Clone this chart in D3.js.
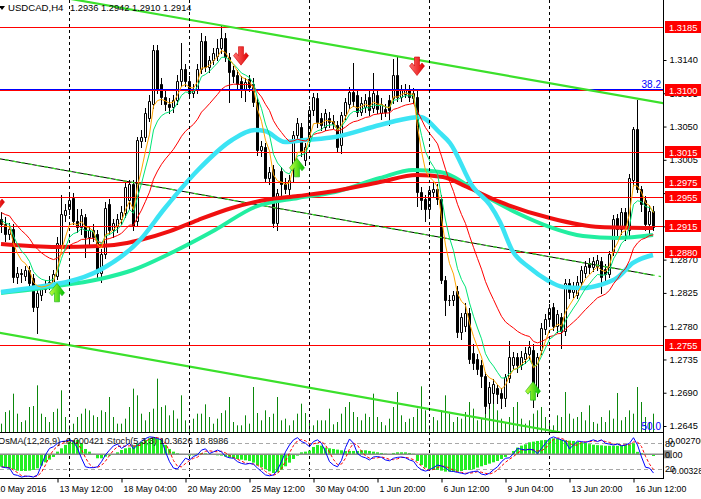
<!DOCTYPE html>
<html>
<head>
<meta charset="utf-8">
<script src="https://cdn.jsdelivr.net/npm/d3@7"></script>
<style>
  body { margin: 0; background: #fff; }
  svg { display: block; }
  text { font-family: "Liberation Sans", Arial, sans-serif; }
</style>
</head>
<body>
<svg id="chart" width="701" height="499"></svg>
<script>
// ---- data ----
// bar 0 = 11 May 04:00, one bar every 4 hours (30 bars per trading week)
var opens = [
  1.2925,1.2918,1.2905,1.2912,1.2846,1.2852,1.2848,1.2856,1.2845,1.2806,
  1.2822,1.2830,1.2836,1.2838,1.2848,1.2890,1.2930,1.2938,1.2954,1.2922,
  1.2914,1.2928,1.2900,1.2910,1.2905,1.2852,1.2878,1.2945,1.2910,1.2915,
  1.2925,1.2933,1.2950,1.2972,1.2922,1.3030,1.3036,1.3062,1.3080,1.3154,
  1.3108,1.3090,1.3080,1.3076,1.3086,1.3112,1.3128,1.3112,1.3095,1.3100,
  1.3128,1.3166,1.3130,1.3140,1.3146,1.3156,1.3170,1.3144,1.3126,1.3120,
  1.3112,1.3100,1.3114,1.3108,1.3083,1.3018,1.3022,1.2980,1.2992,1.2920,
  1.2990,1.2972,1.2966,1.3000,1.3039,1.3049,1.3005,1.3030,1.3072,1.3089,
  1.3062,1.3050,1.3062,1.3058,1.3052,1.3025,1.3066,1.3080,1.3097,1.3092,
  1.3070,1.3076,1.3090,1.3075,1.3092,1.3068,1.3074,1.3086,1.3088,1.3120,
  1.3090,1.3094,1.3100,1.3088,1.3090,1.2962,1.2952,1.2938,1.2962,1.2966,
  1.2952,1.2843,1.2816,1.2815,1.2828,1.2772,1.2780,1.2798,1.2744,1.2736,
  1.2728,1.2712,1.2676,1.2690,1.2696,1.2690,1.2683,1.2710,1.2728,1.2738,
  1.2728,1.2736,1.2742,1.2748,1.2692,1.2748,1.2776,1.2790,1.2806,1.2780,
  1.2792,1.2774,1.2838,1.2826,1.2822,1.2840,1.2852,1.2866,1.2860,1.2862,
  1.2868,1.2858,1.2850,1.2882,1.2926,1.2912,1.2934,1.2910,1.2978,1.3047,
  1.2966,1.2950,1.2918,1.2936
];
var highs = [
  1.2935,1.2928,1.2920,1.2918,1.2860,1.2858,1.2862,1.2862,1.2850,1.2830,
  1.2836,1.2842,1.2848,1.2856,1.2900,1.2957,1.2945,1.2958,1.2960,1.2938,
  1.2938,1.2932,1.2915,1.2918,1.2910,1.2885,1.2948,1.2952,1.2925,1.2932,
  1.2942,1.2975,1.2978,1.2978,1.3036,1.3045,1.3075,1.3092,1.3160,1.3160,
  1.3115,1.3098,1.3088,1.3092,1.3120,1.3163,1.3135,1.3118,1.3108,1.3135,
  1.3176,1.3172,1.3146,1.3156,1.3168,1.3187,1.3176,1.3150,1.3132,1.3126,
  1.3118,1.3116,1.3120,1.3115,1.3088,1.3030,1.3028,1.2995,1.2998,1.2966,
  1.2995,1.2980,1.2985,1.3044,1.3062,1.3055,1.3028,1.3078,1.3096,1.3095,
  1.3068,1.3074,1.3070,1.3066,1.3058,1.3070,1.3088,1.3103,1.3136,1.3098,
  1.3090,1.3094,1.3098,1.3122,1.3098,1.3088,1.3080,1.3092,1.3142,1.3145,
  1.3106,1.3108,1.3106,1.3102,1.3098,1.2968,1.2958,1.2970,1.2975,1.2972,
  1.2958,1.2848,1.2822,1.2828,1.2834,1.2798,1.2812,1.2804,1.2756,1.2742,
  1.2734,1.2718,1.2704,1.2708,1.2700,1.2696,1.2715,1.2760,1.2745,1.2744,
  1.2746,1.2752,1.2760,1.2756,1.2744,1.2784,1.2796,1.2810,1.2812,1.2802,
  1.2798,1.2844,1.2844,1.2840,1.2848,1.2862,1.2868,1.2872,1.2874,1.2876,
  1.2874,1.2864,1.2882,1.2930,1.2932,1.2940,1.2940,1.2986,1.3050,1.3086,
  1.2970,1.2956,1.2944,1.2942
];
var lows = [
  1.2908,1.2895,1.2898,1.2840,1.2838,1.2840,1.2842,1.2832,1.2800,1.2771,
  1.2815,1.2826,1.2830,1.2834,1.2844,1.2884,1.2922,1.2932,1.2918,1.2908,
  1.2905,1.2873,1.2890,1.2895,1.2846,1.2840,1.2872,1.2905,1.2900,1.2908,
  1.2918,1.2928,1.2938,1.2910,1.2915,1.3022,1.3030,1.3058,1.3075,1.3095,
  1.3080,1.3072,1.3068,1.3070,1.3080,1.3105,1.3105,1.3088,1.3090,1.3095,
  1.3122,1.3125,1.3124,1.3134,1.3140,1.3150,1.3138,1.3083,1.3110,1.3102,
  1.3090,1.3085,1.3098,1.3078,1.3012,1.3010,1.2975,1.2972,1.2914,1.2910,
  1.2958,1.2960,1.2958,1.2975,1.3034,1.3010,1.2998,1.3025,1.3066,1.3050,
  1.3045,1.3046,1.3050,1.3048,1.3016,1.3014,1.3060,1.3075,1.3078,1.3064,
  1.3065,1.3070,1.3066,1.3070,1.3068,1.3060,1.3064,1.3052,1.3082,1.3085,
  1.3084,1.3090,1.3084,1.3082,1.2942,1.2938,1.2922,1.2930,1.2955,1.2945,
  1.2838,1.2795,1.2808,1.2808,1.2766,1.2762,1.2774,1.2730,1.2722,1.2716,
  1.2698,1.2662,1.2670,1.2676,1.2676,1.2669,1.2672,1.2705,1.2722,1.2718,
  1.2722,1.2730,1.2736,1.2671,1.2686,1.2742,1.2770,1.2784,1.2775,1.2772,
  1.2750,1.2768,1.2818,1.2820,1.2818,1.2834,1.2846,1.2852,1.2854,1.2856,
  1.2825,1.2842,1.2846,1.2876,1.2900,1.2905,1.2896,1.2902,1.2970,1.2962,
  1.2936,1.2910,1.2906,1.2910
];
var closes = [
  1.2918,1.2905,1.2912,1.2846,1.2852,1.2850,1.2856,1.2838,1.2806,1.2825,
  1.2830,1.2836,1.2840,1.2850,1.2893,1.2932,1.2937,1.2950,1.2922,1.2914,
  1.2930,1.2900,1.2910,1.2900,1.2852,1.2878,1.2940,1.2910,1.2920,1.2925,
  1.2935,1.2968,1.2972,1.2915,1.3032,1.3036,1.3068,1.3085,1.3154,1.3100,
  1.3090,1.3080,1.3076,1.3086,1.3112,1.3128,1.3112,1.3095,1.3100,1.3128,
  1.3166,1.3130,1.3140,1.3150,1.3156,1.3170,1.3144,1.3124,1.3118,1.3108,
  1.3100,1.3110,1.3104,1.3083,1.3018,1.3024,1.2980,1.2988,1.2920,1.2960,
  1.2972,1.2966,1.2978,1.3038,1.3055,1.3016,1.3022,1.3072,1.3090,1.3056,
  1.3052,1.3068,1.3056,1.3054,1.3022,1.3066,1.3083,1.3097,1.3085,1.3070,
  1.3082,1.3086,1.3072,1.3095,1.3074,1.3080,1.3070,1.3072,1.3120,1.3090,
  1.3100,1.3100,1.3090,1.3095,1.2962,1.2950,1.2938,1.2964,1.2966,1.2952,
  1.2843,1.2816,1.2815,1.2822,1.2772,1.2792,1.2798,1.2736,1.2730,1.2722,
  1.2712,1.2672,1.2698,1.2702,1.2688,1.2683,1.2711,1.2738,1.2738,1.2728,
  1.2738,1.2744,1.2752,1.2692,1.2738,1.2778,1.2790,1.2804,1.2780,1.2796,
  1.2774,1.2838,1.2826,1.2834,1.2840,1.2856,1.2862,1.2860,1.2868,1.2870,
  1.2846,1.2850,1.2878,1.2925,1.2912,1.2934,1.2915,1.2980,1.3047,1.2966,
  1.2945,1.2918,1.2936,1.2914
];
var volumes = [
  500,1200,1300,2300,1100,600,700,1500,1560,2800,
  1100,900,600,1200,1400,2500,900,400,500,900,
  1100,1400,1300,1000,900,1300,1200,2100,900,500,
  500,800,1500,2600,2200,1100,700,1200,1400,3200,
  1500,1600,1000,1300,800,2200,700,400,800,1100,
  1100,1660,900,500,800,1140,1300,2100,600,400,
  400,1000,500,2700,1140,700,1300,900,1100,2100,
  700,800,400,700,1100,1700,1140,540,400,700,
  700,700,1400,460,600,1100,1500,1800,1200,900,
  700,1100,900,2300,900,600,400,800,1500,2400,
  1000,600,800,900,1400,2740,1300,400,900,700,
  1300,2200,1100,600,900,800,1200,1800,1400,700,
  800,1100,1700,2700,1300,800,600,900,1500,1800,
  800,500,700,1100,1300,1500,900,600,400,1000,
  900,2400,1100,800,900,1200,700,1600,600,500,
  900,600,1300,800,2340,700,900,1300,1100,2700,
  1800,900,600,1100
];
// OsMA(12,26,9) histogram, in units of 0.0001
var osma = [
  -30.3,-32.7,-34.4,-36.8,-40.1,-40.9,-40.9,-40.1,-38.4,-34.4,
  -27.8,-19.6,-13.1,-6.5,6.5,14.7,22.9,31.1,35.2,35.2,
  27.0,13.1,6.5,1.0,-9.8,-9.8,-5.7,-3.3,0.5,4.9,
  10.6,14.7,16.4,21.3,27.0,31.1,35.2,39.3,41.7,39.3,
  35.2,22.9,13.1,6.5,2.5,0.8,-1.6,-3.3,-2.5,1.6,
  3.3,2.5,1.6,-1.6,-2.5,-3.3,-5.7,-8.2,-9.8,-11.5,
  -13.1,-14.7,-16.4,-20.5,-27.0,-31.9,-36.8,-41.7,-45.8,-44.2,
  -37.6,-29.4,-20.5,-11.5,-3.3,4.9,6.5,9.0,18.0,22.9,
  21.3,16.4,14.7,13.1,11.5,9.8,8.2,8.2,8.2,8.2,
  9.8,9.8,8.2,6.5,4.9,3.3,1.6,-1.6,3.3,4.9,
  4.9,4.9,3.3,1.6,-16.4,-26.2,-32.7,-36.0,-38.4,-38.4,
  -40.1,-42.5,-42.5,-42.5,-42.5,-40.9,-38.4,-38.4,-36.8,-32.7,
  -29.4,-26.2,-22.9,-19.6,-16.4,-11.5,-6.5,-1.6,8.2,16.4,
  21.3,24.5,29.4,31.1,32.7,34.4,35.2,37.6,39.3,37.6,
  35.2,34.4,33.5,32.7,31.1,29.4,27.8,25.0,23.5,22.5,
  22.0,21.0,21.0,21.0,21.0,22.0,23.0,24.0,27.0,6.0,
  3.0,1.0,-1.0,-4.21
];
// Stochastic(5,3,3) main line
var stochMain = [
  25,23,22,7,5,1,3,3,1,6,
  29,53,68,72,80,84,85,88,84,68,
  45,25,23,23,25,37,53,64,74,78,
  68,74,80,67,76,85,91,95,94,91,
  88,60,37,22,20,33,45,41,49,53,
  64,67,56,60,64,60,49,46,45,37,
  33,31,33,31,22,14,6,4,6,18,
  37,60,76,88,93,84,80,72,84,88,
  80,60,37,29,25,40,70,90,80,56,
  49,46,41,48,49,47,41,39,45,47,
  48,46,41,38,25,18,15,18,23,29,
  27,23,15,14,12,10,8,12,14,15,
  8,6,10,18,25,37,45,46,56,68,
  66,64,66,64,56,68,80,91,95,91,
  88,84,67,76,85,84,82,85,88,84,
  88,80,78,76,78,74,76,80,93,76,
  48,24,22,10.4
];
// values printed in the sub window header
var osmaReadout = "-0.000421";
var stochReadout = ["10.3626", "18.8986"];
// slow moving averages, read as [bar, price]
var maAqua = [[0,1.28262],[12.25,1.28357],[16.5,1.28398],[24.75,1.2856],[34.75,1.28966],
  [41,1.29398],[49.25,1.29912],[57.75,1.30318],[63.5,1.30453],[66,1.3044],[71,1.30291],
  [76,1.30318],[83.5,1.30359],[94.75,1.30521],[102.25,1.30616],[104.75,1.30629],
  [109.75,1.30413],[112.25,1.30277],[118,1.29682],[122.25,1.29439],[124.75,1.29209],
  [127.75,1.2883],[132.25,1.28587],[136.5,1.28425],[140.5,1.2833],[145.5,1.28316],
  [149.75,1.28357],[154,1.28452],[158,1.28655],[163,1.28763]];
var maSpring = [[0,1.28249],[12.25,1.2833],[24.75,1.28438],[33,1.2856],[44,1.2883],
  [53.5,1.29101],[63.5,1.29412],[74.25,1.29534],[83.5,1.29615],[94.75,1.29804],
  [103,1.29912],[109.75,1.29885],[120.5,1.29574],[129,1.29331],[137.25,1.29141],
  [145.5,1.2902],[154,1.28993],[163,1.29033]];
var maRed = [[0,1.28912],[14,1.28871],[24.75,1.28884],[31.5,1.28925],[34.75,1.28966],
  [42.25,1.29087],[49.25,1.29236],[57.75,1.29398],[66,1.29507],[74.25,1.29561],
  [83.5,1.29628],[94.75,1.2975],[104,1.29845],[110.5,1.29818],[116.5,1.29682],
  [124.75,1.2948],[137.25,1.29263],[149.75,1.29141],[163,1.29128]];
// fast EMAs: periods and the values they start from at the left edge
var fastPeriods = [21, 8, 5];
var fastSeeds = [1.2935, 1.2925, 1.2922];

var levels = [1.3185, 1.3100, 1.3015, 1.2975, 1.2955, 1.2915, 1.2880, 1.2755];
var fibNames = ["38.2", "50.0"];
var fibPrices = [1.3100, 1.26366];
var priceTicks = [1.2645, 1.2690, 1.2735, 1.2780, 1.2825, 1.2870, 1.2915, 1.2960, 1.3005, 1.3050, 1.3095, 1.3140];
// trend lines as [bar, price, bar, price]
var trendUpper = [19, 1.32211, 165.5, 1.30818];
var trendLower = [0, 1.27708, 137.25, 1.26389];
var trendMid = [0, 1.30061, 163, 1.2849];
var arrowsDown = [[-1, 1.2933], [60, 1.3131], [104, 1.3117]];
var arrowsUp = [[14, 1.2840], [74, 1.3009], [133, 1.2707]];
var weekStarts = [17, 47, 77, 107, 137];
var timeTickBars = [-2, 14, 30, 46, 62, 78, 94, 110, 126, 142, 158];
var timeTickLabels = ["10 May 2016", "13 May 12:00", "18 May 04:00", "20 May 20:00", "25 May 12:00",
  "30 May 04:00", "1 Jun 20:00", "6 Jun 12:00", "9 Jun 04:00", "13 Jun 20:00", "16 Jun 12:00"];

// ---- layout ----
var plotRight = 663, mainBottom = 432, subTop = 433, subBottom = 478;
var svg = d3.select("#chart");

var x = d3.scaleLinear().domain([0, 163]).range([1, 653]);
var y = d3.scaleLinear().domain([1.2645, 1.3140]).range([426, 60]);
var yVol = d3.scaleLinear().domain([0, 6000]).range([mainBottom, mainBottom - 100]);
var yStoch = d3.scaleLinear().domain([0, 100]).range([477.5, 434.7]);
var yOsma = d3.scaleLinear().domain([0, 27]).range([454.3, 443.3]);

var defs = svg.append("defs");
defs.append("clipPath").attr("id", "clipMain").append("rect")
  .attr("x", 0).attr("y", 0).attr("width", plotRight).attr("height", mainBottom);
defs.append("clipPath").attr("id", "clipSub").append("rect")
  .attr("x", 0).attr("y", subTop).attr("width", plotRight).attr("height", subBottom - subTop);
var gr = defs.append("linearGradient").attr("id", "gRed");
gr.append("stop").attr("offset", "0%").attr("stop-color", "#ff7070");
gr.append("stop").attr("offset", "100%").attr("stop-color", "#e00000");
var gg = defs.append("linearGradient").attr("id", "gGreen");
gg.append("stop").attr("offset", "0%").attr("stop-color", "#c8ff40");
gg.append("stop").attr("offset", "100%").attr("stop-color", "#00c000");

var px = function (i) { return Math.round(x(i)); };
var py = function (p) { return Math.round(y(p)) + 0.5; };

var main = svg.append("g").attr("clip-path", "url(#clipMain)");

// volumes
main.append("g").selectAll("line").data(volumes).enter().append("line")
  .attr("x1", function (d, i) { return px(i) + 0.5; })
  .attr("x2", function (d, i) { return px(i) + 0.5; })
  .attr("y1", mainBottom)
  .attr("y2", function (d) { return yVol(d); })
  .attr("stroke", "#0b870b").attr("stroke-width", 1);

// candles
var cg = main.append("g");
closes.forEach(function (c, i) {
  var o = opens[i];
  var cx = px(i);
  cg.append("line")
    .attr("x1", cx + 0.5).attr("x2", cx + 0.5)
    .attr("y1", Math.round(y(highs[i]))).attr("y2", Math.round(y(lows[i])) + 1)
    .attr("stroke", "#000");
  var top = Math.round(y(Math.max(o, c)));
  var bot = Math.round(y(Math.min(o, c)));
  cg.append("path")
    .attr("d", "M" + (cx - 0.5) + "," + (top + 0.5) + "h2v" + (bot - top) + "h-2Z")
    .attr("fill", c >= o ? "#fff" : "#000")
    .attr("stroke", "#000").attr("stroke-width", 1);
});

// horizontal levels
main.append("g").selectAll("line").data(levels).enter().append("line")
  .attr("x1", 0).attr("x2", plotRight)
  .attr("y1", function (d) { return py(d); }).attr("y2", function (d) { return py(d); })
  .attr("stroke", "#ff0000").attr("stroke-width", 1);
main.append("line")
  .attr("x1", 0).attr("x2", plotRight)
  .attr("y1", py(fibPrices[0]) - 1).attr("y2", py(fibPrices[0]) - 1)
  .attr("stroke", "#0000ff").attr("stroke-width", 1.2);

// trend lines
function seg(t) {
  return { x1: x(t[0]), y1: y(t[1]), x2: x(t[2]), y2: y(t[3]) };
}
function extend(t, from, to) {
  var slope = (t[3] - t[1]) / (t[2] - t[0]);
  return [from, t[1] + slope * (from - t[0]), to, t[1] + slope * (to - t[0])];
}
function drawSeg(t, stroke, width, dash) {
  var s = seg(t);
  var l = main.append("line")
    .attr("x1", s.x1).attr("y1", s.y1).attr("x2", s.x2).attr("y2", s.y2)
    .attr("stroke", stroke).attr("stroke-width", width);
  if (dash) l.attr("stroke-dasharray", dash);
}
drawSeg(extend(trendUpper, -5, 166), "#3be02b", 2.2);
drawSeg(extend(trendLower, -1, 140), "#3be02b", 2.2);
drawSeg(extend(trendMid, -1, 163), "#000", 1);
drawSeg(extend(trendMid, -1, 165), "#3be02b", 1.2, "4,4");

// slow moving averages
var maLine = d3.line()
  .x(function (d) { return x(d[0]); })
  .y(function (d) { return y(d[1]); })
  .curve(d3.curveMonotoneX);
main.append("path").attr("d", maLine(maSpring)).attr("fill", "none")
  .attr("stroke", "#22eea0").attr("stroke-width", 4);
main.append("path").attr("d", maLine(maRed)).attr("fill", "none")
  .attr("stroke", "#f01010").attr("stroke-width", 4);
main.append("path").attr("d", maLine(maAqua)).attr("fill", "none")
  .attr("stroke", "#3ce4f4").attr("stroke-width", 4.5);

// fast EMAs of the closes
function ema(values, period, seed) {
  var k = 2 / (period + 1), prev = seed;
  return values.map(function (v) { prev = prev + k * (v - prev); return prev; });
}
var fastColors = ["#ff0000", "#00e676", "#ffa500"];
var barLine = d3.line()
  .x(function (d, i) { return x(i) + 0.5; })
  .y(function (d) { return y(d); });
fastPeriods.forEach(function (p, k) {
  main.append("path").attr("d", barLine(ema(closes, p, fastSeeds[k])))
    .attr("fill", "none").attr("stroke", fastColors[k]).attr("stroke-width", 1);
});

// signal arrows
function arrowPath(dir) {
  var pts = [[-2.5, -20], [2.5, -20], [2.5, -11], [5, -14], [7.5, -11], [0, -1.5],
             [-7.5, -11], [-5, -14], [-2.5, -11]];
  return "M" + pts.map(function (p) { return p[0] + "," + (p[1] * dir); }).join("L") + "Z";
}
arrowsDown.forEach(function (a) {
  main.append("path").attr("d", arrowPath(1))
    .attr("transform", "translate(" + x(a[0]) + "," + y(a[1]) + ")")
    .attr("fill", "url(#gRed)").attr("stroke", "#d00000").attr("stroke-width", 0.6);
});
arrowsUp.forEach(function (a) {
  main.append("path").attr("d", arrowPath(-1))
    .attr("transform", "translate(" + x(a[0]) + "," + y(a[1]) + ")")
    .attr("fill", "url(#gGreen)").attr("stroke", "#10b010").attr("stroke-width", 0.6);
});

// fibo labels
fibNames.forEach(function (n, k) {
  svg.append("text").attr("x", 661).attr("y", Math.min(y(fibPrices[k]) - 2, 430))
    .attr("text-anchor", "end").attr("font-size", 10).attr("fill", "#0000ff").text(n);
});

// week separators
svg.append("g").selectAll("line").data(weekStarts).enter().append("line")
  .attr("x1", function (d) { return px(d) + 0.5; })
  .attr("x2", function (d) { return px(d) + 0.5; })
  .attr("y1", 0).attr("y2", subBottom)
  .attr("stroke", "#000").attr("stroke-width", 1).attr("stroke-dasharray", "3,3");

// title
svg.append("path").attr("d", "M-1,6L5,6L2,10Z").attr("fill", "#000");
svg.append("text").attr("x", 8).attr("y", 11).attr("font-size", 9.6).attr("fill", "#000")
  .text("USDCAD,H4");
svg.append("text").attr("x", 70).attr("y", 11).attr("font-size", 9.3).attr("fill", "#000")
  .text(opens[163].toFixed(4) + " " + highs[163].toFixed(4) + " " + lows[163].toFixed(4) + " " + closes[163].toFixed(4));

// ---- sub window ----
var sub = svg.append("g").attr("clip-path", "url(#clipSub)");
[80, 20].forEach(function (lv) {
  sub.append("line").attr("x1", 0).attr("x2", plotRight)
    .attr("y1", Math.round(yStoch(lv)) + 0.5).attr("y2", Math.round(yStoch(lv)) + 0.5)
    .attr("stroke", "#a8a8a8").attr("stroke-dasharray", "4,3");
});
sub.append("g").selectAll("rect").data(osma).enter().append("rect")
  .attr("x", function (d, i) { return px(i) - 1; })
  .attr("width", 3)
  .attr("y", function (d) { return Math.min(yOsma(d), yOsma(0)); })
  .attr("height", function (d) { return Math.abs(yOsma(d) - yOsma(0)); })
  .attr("fill", "#22ee22");
sub.append("line").attr("x1", 0).attr("x2", plotRight)
  .attr("y1", yOsma(0)).attr("y2", yOsma(0))
  .attr("stroke", "#8c8c8c").attr("stroke-width", 1.6);
var stochSignal = stochMain.map(function (v, i) {
  return d3.mean(stochMain.slice(Math.max(0, i - 2), i + 1));
});
var stochLine = d3.line()
  .x(function (d, i) { return x(i) + 0.5; })
  .y(function (d) { return yStoch(d); });
sub.append("path").attr("d", stochLine(stochSignal)).attr("fill", "none")
  .attr("stroke", "#ff0000").attr("stroke-width", 1).attr("stroke-dasharray", "3,2");
sub.append("path").attr("d", stochLine(stochMain)).attr("fill", "none")
  .attr("stroke", "#0000ff").attr("stroke-width", 1);
sub.append("text").attr("x", -2).attr("y", 444).attr("font-size", 9.2).attr("fill", "#111")
  .text("OsMA(12,26,9) " + osmaReadout + " Stoch(5,3,3) " + stochReadout.join(" "));

// frames
svg.append("line").attr("x1", 0).attr("x2", plotRight).attr("y1", 432.5).attr("y2", 432.5).attr("stroke", "#000");
svg.append("line").attr("x1", 0).attr("x2", plotRight).attr("y1", subBottom + 0.5).attr("y2", subBottom + 0.5).attr("stroke", "#000");
svg.append("line").attr("x1", plotRight + 0.5).attr("x2", plotRight + 0.5).attr("y1", 0).attr("y2", subBottom + 1).attr("stroke", "#000");

// price axis
var yAxis = svg.append("g").attr("transform", "translate(" + (plotRight + 0.5) + ",0)")
  .call(d3.axisRight(y).tickValues(priceTicks).tickSize(3).tickFormat(d3.format(".4f")));
yAxis.select(".domain").remove();
yAxis.selectAll("text").attr("font-size", 9.3).attr("font-family", "Liberation Sans, Arial, sans-serif").attr("fill", "#000");

// level tags
levels.forEach(function (lv) {
  var cy = Math.round(y(lv));
  svg.append("rect").attr("x", 665).attr("y", cy - 6).attr("width", 36).attr("height", 12).attr("fill", "#ff0000");
  svg.append("text").attr("x", 669).attr("y", cy + 3.5).attr("font-size", 9.3).attr("fill", "#fff")
    .text(lv.toFixed(4));
});

// sub window scale labels
svg.append("text").attr("x", 665).attr("y", Math.round(yStoch(80)) + 4).attr("font-size", 9).text("80");
svg.append("text").attr("x", 668).attr("y", Math.round(yStoch(80)) + 1).attr("font-size", 9).text("0.002700");
svg.append("rect").attr("x", 664).attr("y", yOsma(0) - 4).attr("width", 8).attr("height", 8).attr("fill", "#8c8c8c");
svg.append("text").attr("x", 665).attr("y", yOsma(0) + 3.5).attr("font-size", 9).text("0.00");
svg.append("text").attr("x", 665).attr("y", Math.round(yStoch(20)) + 3).attr("font-size", 9).text("20");
svg.append("text").attr("x", 669).attr("y", Math.round(yStoch(20)) + 5).attr("font-size", 8.6).text("-0.00328");

// time axis
var xAxis = svg.append("g").attr("transform", "translate(0," + (subBottom + 0.5) + ")")
  .call(d3.axisBottom(x).tickValues(timeTickBars).tickSize(4)
    .tickFormat(function (d, k) { return timeTickLabels[k]; }));
xAxis.select(".domain").remove();
xAxis.selectAll(".tick line").attr("transform", "translate(0.5,0)");
xAxis.selectAll("text").attr("text-anchor", "start").attr("x", 2)
  .attr("font-size", 8.8).attr("font-family", "Liberation Sans, Arial, sans-serif").attr("fill", "#000");
</script>
</body>
</html>
